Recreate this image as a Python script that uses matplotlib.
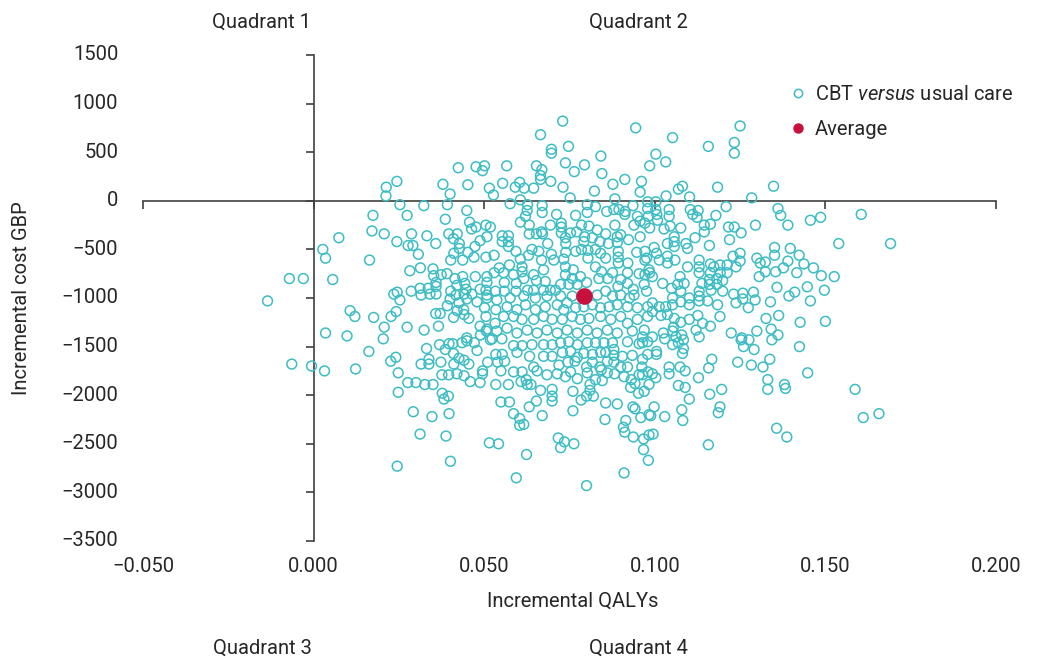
import matplotlib
matplotlib.use("Agg")
import matplotlib.pyplot as plt
from matplotlib.lines import Line2D
from matplotlib.transforms import blended_transform_factory

plt.rcParams['font.family'] = ['Roboto', 'DejaVu Sans']
plt.rcParams['mathtext.fontset'] = 'custom'
plt.rcParams['mathtext.rm'] = 'Roboto'
plt.rcParams['mathtext.it'] = 'Roboto:italic'

# ---------------- data ----------------
qaly = [
 -0.0135,-0.0071,-0.0030,0.0027,0.0035,0.0035,-0.0064,-0.0006,0.0032,
 0.0424,0.0476,0.0501,0.0495,0.0244,0.0213,0.0212,0.0379,0.0452,0.0400,0.0515,0.0253,0.0323,0.0392,0.0174,0.0274,0.0449,0.0386,0.0171,0.0207,0.0244,0.0287,0.0332,0.0358,0.0277,0.0291,0.0074,0.0164,0.0307,0.0396,0.0421,0.0457,0.0463,0.0476,0.0505,0.0410,0.0427,0.0427,0.0411,0.0402,0.0437,0.0452,0.0470,0.0473,0.0488,0.0505,0.0508,0.0282,0.0313,0.0350,0.0352,0.0374,0.0391,0.0414,0.0437,0.0474,0.0508,0.0056,0.0359,0.0359,0.0336,0.0312,0.0286,0.0235,0.0245,0.0253,0.0315,0.0341,0.0359,0.0402,0.0420,0.0443,0.0447,0.0464,0.0488,0.0505,0.0441,0.0417,0.0400,0.0392,0.0426,0.0449,0.0479,0.0501,0.0508,0.0107,0.0121,0.0176,0.0227,0.0242,0.0358,0.0371,0.0410,0.0421,0.0440,0.0441,0.0455,0.0505,0.0207,0.0274,0.0324,0.0366,0.0488,0.0098,0.0204,0.0449,0.0489,0.0508,
 0.0162,0.0123,0.0226,0.0241,0.0248,0.0248,0.0276,0.0300,0.0326,0.0350,0.0315,0.0331,0.0338,0.0338,0.0373,0.0369,0.0386,0.0397,0.0408,0.0410,0.0411,0.0426,0.0441,0.0455,0.0435,0.0449,0.0471,0.0479,0.0506,0.0518,0.0510,0.0376,0.0396,0.0420,0.0441,0.0459,0.0488,0.0495,0.0495,0.0377,0.0382,0.0395,0.0292,0.0347,0.0397,0.0312,0.0388,0.0515,0.0245,0.0401,
 0.0730,0.0944,0.0665,0.0747,0.0697,0.0697,0.0842,0.0566,0.0653,0.0669,0.0665,0.0665,0.0738,0.0764,0.0794,0.0845,0.0695,0.0554,0.0527,0.0591,0.0604,0.0617,0.0645,0.0731,0.0877,0.0912,0.0961,0.0957,0.0823,0.0752,0.0883,0.0985,0.0576,0.0606,0.0627,0.0670,0.0626,0.0621,0.0670,0.0712,0.0768,0.0802,0.0802,0.0826,0.0859,0.0880,0.0895,0.0913,0.0936,0.0912,0.0949,0.0979,0.0979,0.0981,0.0518,0.0606,0.0632,0.0668,0.0694,0.0726,0.0726,0.0726,0.0753,0.0785,0.0807,0.0831,0.0856,0.0883,0.0900,0.0939,0.0957,0.0971,0.0957,0.0985,0.0553,0.0571,0.0553,0.0571,0.0632,0.0653,0.0671,0.0686,0.0738,0.0771,0.0794,0.0792,0.0817,0.0839,0.0864,0.0890,0.0923,0.0890,0.0571,0.0593,0.0640,0.0660,0.0630,0.0606,0.0668,0.0697,0.0704,0.0739,0.0739,0.0768,0.0785,0.0804,0.0826,0.0841,0.0856,0.0893,0.0893,0.0893,0.0921,0.0947,0.0976,0.0529,0.0544,0.0574,0.0611,0.0611,0.0674,0.0733,0.0738,0.0761,0.0804,0.0826,0.0844,0.0876,0.0920,0.0954,0.0985,0.0508,0.0529,0.0557,0.0586,0.0559,0.0594,0.0616,0.0645,0.0653,0.0679,0.0738,0.0758,0.0782,0.0800,0.0773,0.0748,0.0724,0.0709,0.0694,0.0674,0.0645,0.0627,0.0593,0.0559,0.0533,0.0836,0.0862,0.0900,0.0920,0.0892,0.0937,0.0939,0.0969,0.0976,0.0831,0.0856,0.0876,0.0900,0.0926,0.0508,0.0537,0.0576,0.0616,0.0650,0.0684,0.0724,0.0758,0.0534,0.0567,0.0596,0.0621,0.0650,0.0679,0.0714,0.0743,0.0733,0.0768,0.0792,0.0817,0.0841,0.0866,0.0890,0.0920,0.0949,0.0979,0.0532,0.0557,0.0586,0.0611,0.0645,0.0674,0.0699,0.0729,0.0758,0.0782,0.0807,0.0841,0.0871,0.0900,0.0920,0.0949,0.0979,0.0537,0.0567,0.0596,0.0626,0.0655,0.0684,0.0714,0.0743,0.0773,0.0802,0.0831,0.0861,0.0890,0.0934,0.0969,
 0.0523,0.0552,0.0586,0.0611,0.0640,0.0674,0.0699,0.0724,0.0748,0.0773,0.0802,0.0826,0.0851,0.0876,0.0920,0.0954,0.0979,0.0534,0.0553,0.0596,0.0633,0.0674,0.0699,0.0729,0.0753,0.0773,0.0792,0.0817,0.0841,0.0856,0.0880,0.0880,0.0905,0.0934,0.0979,0.0539,0.0560,0.0719,0.0745,0.0766,0.0800,0.0817,0.0839,0.0861,0.0880,0.0900,0.0920,0.0962,0.0549,0.0586,0.0611,0.0645,0.0655,0.0684,0.0714,0.0738,0.0753,0.0773,0.0802,0.0826,0.0843,0.0846,0.0861,0.0882,0.0910,0.0931,0.0954,0.0980,0.0534,0.0571,0.0608,0.0623,0.0626,0.0637,0.0665,0.0699,0.0699,0.0699,0.0760,0.0810,0.0810,0.0800,0.0820,0.0784,0.0856,0.0890,0.0929,0.0942,0.0952,0.0969,0.0983,0.0549,0.0574,0.0632,0.0653,0.0586,0.0604,0.0604,0.0616,0.0670,0.0760,0.0854,0.0936,0.0942,0.0959,0.0983,0.0915,0.0908,0.0912,0.0937,0.0967,0.0983,0.0542,0.0624,0.0717,0.0735,0.0724,0.0763,0.0967,0.0981,0.0594,0.0800,0.0910,
 0.1250,0.1052,0.1157,0.1233,0.1233,0.1003,0.1032,0.1069,0.1081,0.1184,0.1348,0.1033,0.1102,0.1284,0.1003,0.1003,0.1006,0.1042,0.1042,0.1104,0.1127,0.1111,0.1124,0.1179,0.1209,0.1361,0.1369,0.1390,0.1456,0.1486,0.1008,0.1045,0.1027,0.1076,0.1145,0.1163,0.1145,0.1216,0.1233,0.1253,0.1295,0.1219,0.1057,0.1057,0.1057,0.1037,0.1118,0.1091,0.1096,0.1160,0.0998,0.1005,0.0971,0.0971,0.1013,0.1037,0.1037,0.1059,0.0983,0.0993,0.0971,0.1096,0.1130,0.1130,0.1130,0.1163,0.1173,0.1191,0.1212,0.1163,0.1192,0.1212,0.1229,0.1250,0.1250,0.1238,0.1351,0.1351,0.1397,0.1423,0.1437,0.1299,0.1309,0.1324,0.1324,0.1306,0.1354,0.1377,0.1390,0.1416,0.1074,0.1023,0.1049,0.1067,0.1086,0.1076,0.1138,0.1160,0.1160,0.1182,0.1182,0.1199,0.1199,0.1165,0.1130,0.1130,0.1155,0.1130,0.1101,0.1101,0.1076,0.1052,0.1052,0.1032,0.1013,0.0993,0.0993,0.1018,0.1037,0.1057,0.1076,0.1101,0.1126,0.1140,0.1163,0.1191,0.1184,0.1231,0.1258,0.1258,0.1289,0.1294,0.1274,0.1238,0.1339,0.1358,0.1393,0.1410,0.1363,0.1326,0.1426,0.1025,0.1055,0.1079,0.1121,0.1130,0.1224,0.1255,0.1299,0.1341,0.1361,0.0964,
 0.0993,0.1052,0.1029,0.1062,0.1084,0.1052,0.1069,0.0964,0.1005,0.1005,0.1084,0.1081,0.0964,0.0964,0.0993,0.1003,0.1042,0.1042,0.1074,0.1089,0.1128,0.1167,0.1158,0.1253,0.1276,0.1260,0.1291,0.1343,0.1243,0.1283,0.1317,0.1337,0.1424,0.1448,0.1331,0.1331,0.1380,0.1383,0.1069,0.1089,0.1101,0.1161,0.1196,0.1191,0.1186,0.0998,0.0988,0.1029,0.1079,0.1082,0.0995,0.1157,0.1357,0.1387,
 0.1605,0.1539,0.1691,0.1526,0.1587,0.1611,0.1657,
 0.1465,0.1488,0.1447,0.1497,0.1456,0.1500,
]
cost = [
 -1030,-800,-800,-500,-590,-1360,-1680,-1700,-1750,
 340,350,360,310,200,140,50,170,165,70,130,-40,-50,-40,-150,-150,-100,-190,-310,-340,-420,-340,-360,-440,-460,-460,-380,-610,-550,-340,-340,-220,-290,-270,-250,-390,-440,-490,-540,-610,-610,-530,-580,-470,-410,-580,-370,-720,-690,-700,-770,-760,-750,-800,-780,-780,-780,-810,-840,-880,-900,-900,-930,-960,-940,-1020,-970,-960,-960,-930,-870,-850,-910,-960,-910,-920,-960,-970,-1010,-1080,-1050,-1010,-1040,-1100,-970,-1130,-1190,-1200,-1190,-1140,-1160,-1160,-1200,-1130,-1120,-1170,-1210,-1190,-1300,-1300,-1330,-1290,-1290,-1390,-1420,-1410,-1380,-1320,
 -1550,-1730,-1650,-1610,-1770,-1970,-1870,-1870,-1890,-1890,-1680,-1520,-1630,-1680,-1660,-1480,-1530,-1470,-1470,-1570,-1680,-1620,-1640,-1680,-1460,-1440,-1460,-1540,-1340,-1430,-1660,-1790,-1790,-1780,-1800,-1860,-1870,-1750,-1780,-1980,-2040,-2010,-2170,-2220,-2190,-2400,-2420,-2490,-2730,-2680,
 820,750,680,560,530,490,460,360,360,320,260,220,390,300,370,280,200,180,60,140,190,130,130,140,170,220,200,90,100,30,20,360,-30,10,-40,-50,-100,-160,-120,-140,-150,-40,-120,-60,-110,-90,-90,-110,-50,-140,-160,-10,-80,-160,-270,-220,-250,-320,-250,-230,-270,-330,-330,-250,-260,-300,-340,-250,-350,-250,-210,-230,-370,-280,-360,-360,-420,-420,-340,-340,-340,-440,-380,-320,-370,-420,-380,-420,-440,-370,-400,-430,-470,-520,-500,-520,-560,-600,-610,-550,-610,-530,-440,-520,-500,-510,-500,-540,-590,-520,-580,-640,-640,-530,-590,-560,-690,-660,-680,-730,-710,-600,-680,-710,-590,-680,-730,-740,-740,-750,-740,-840,-740,-740,-760,-840,-850,-800,-760,-820,-830,-760,-800,-780,-840,-860,-860,-860,-920,-920,-920,-920,-920,-930,-930,-930,-800,-800,-810,-850,-880,-910,-970,-860,-930,-970,-930,-980,-970,-1000,-1000,-1020,-1000,-980,-1000,-980,-980,-980,-1120,-1090,-1120,-1070,-1120,-1090,-1070,-1050,-1120,-1100,-1090,-1070,-1100,-1090,-1070,-1090,-1100,-1090,-1260,-1190,-1190,-1220,-1220,-1190,-1220,-1220,-1190,-1220,-1210,-1190,-1220,-1190,-1260,-1220,-1190,-1340,-1310,-1360,-1330,-1360,-1330,-1360,-1330,-1360,-1330,-1360,-1330,-1360,-1340,-1330,
 -1420,-1420,-1490,-1490,-1480,-1480,-1480,-1460,-1450,-1480,-1460,-1460,-1460,-1460,-1450,-1470,-1450,-1580,-1580,-1560,-1600,-1600,-1600,-1560,-1550,-1610,-1570,-1580,-1560,-1560,-1530,-1590,-1600,-1590,-1580,-1660,-1650,-1690,-1660,-1650,-1710,-1660,-1710,-1650,-1660,-1710,-1710,-1710,-1750,-1760,-1760,-1710,-1750,-1790,-1780,-1810,-1760,-1830,-1770,-1840,-1740,-1850,-1770,-1780,-1810,-1840,-1790,-1760,-1890,-1890,-1860,-1840,-1890,-1890,-1950,-1940,-2010,-2060,-1960,-1890,-1950,-2010,-2010,-2050,-2080,-2090,-1920,-1880,-1980,-1960,-1890,-2070,-2070,-2120,-2060,-2190,-2240,-2310,-2300,-2210,-2160,-2250,-2120,-2140,-2230,-2200,-2260,-2330,-2380,-2430,-2450,-2410,-2500,-2610,-2440,-2480,-2540,-2500,-2560,-2670,-2850,-2930,-2800,
 770,650,560,600,490,480,400,120,150,140,150,50,40,30,-10,-90,-140,-90,-160,-90,-100,-140,-170,-150,-60,-80,-150,-250,-200,-170,-200,-260,-290,-280,-250,-240,-320,-270,-270,-330,-250,-400,-370,-420,-470,-440,-380,-440,-490,-460,-480,-540,-520,-610,-610,-570,-640,-610,-710,-780,-760,-680,-610,-680,-740,-650,-680,-660,-660,-740,-740,-740,-570,-540,-620,-680,-480,-560,-490,-560,-650,-590,-640,-630,-730,-780,-730,-690,-620,-740,-780,-850,-900,-860,-850,-930,-850,-810,-860,-800,-860,-820,-930,-920,-930,-980,-1030,-1030,-1000,-1070,-1040,-1000,-1070,-1090,-1090,-1050,-1140,-1180,-1170,-1210,-1250,-1220,-1180,-1260,-1290,-1190,-1070,-960,-950,-1010,-940,-1020,-1100,-1050,-1040,-890,-980,-940,-1180,-1210,-1250,-1360,-1300,-1380,-1330,-1400,-1360,-1410,-1340,-1320,-1380,-1400,
 -1400,-1340,-1420,-1400,-1430,-1480,-1460,-1460,-1550,-1580,-1520,-1570,-1630,-1790,-1780,-1820,-1710,-1780,-1710,-1750,-1820,-1630,-1720,-1430,-1430,-1500,-1530,-1430,-1660,-1690,-1710,-1630,-1500,-1770,-1840,-1940,-1890,-1930,-1900,-1920,-2040,-1990,-1940,-2120,-2180,-2120,-2210,-2220,-2150,-2260,-2400,-2510,-2340,-2430,
 -140,-440,-440,-780,-1940,-2230,-2190,
 -690,-770,-885,-920,-1030,-1240,
]
avg_qaly = [0.0792]
avg_cost = [-975]

x_ticks = [-0.05, 0.0, 0.05, 0.10, 0.15, 0.20]
x_tick_labels = ["\u22120.050", "0.000", "0.050", "0.100", "0.150", "0.200"]
y_ticks = [-3500, -3000, -2500, -2000, -1500, -1000, -500, 0, 500, 1000, 1500]
y_tick_labels = [("\u2212" + str(-v)) if v < 0 else str(v) for v in y_ticks]
quadrant_labels = ["Quadrant 1", "Quadrant 2", "Quadrant 3", "Quadrant 4"]

# ---------------- style ----------------
TEAL = "#3dbdc3"
RED = "#c8103e"
AXC = "#404040"
TXT = "#262626"
FS = 14.5

W, H = 1041, 658
fig = plt.figure(figsize=(W / 100, H / 100), dpi=100)
ax = fig.add_axes([143 / W, 1 - 541 / H, (996 - 143) / W, (541 - 55) / H])

ax.scatter(qaly, cost, s=50, facecolors="none", edgecolors=TEAL, linewidths=1.1, zorder=3)
ax.scatter(avg_qaly, avg_cost, s=120, color=RED, zorder=4)

ax.set_xlim(-0.05, 0.2)
ax.set_ylim(-3500, 1500)

for s in ["top", "right"]:
    ax.spines[s].set_visible(False)
ax.spines["left"].set_position(("data", 0))
ax.spines["bottom"].set_position(("data", 0))
for s in ["left", "bottom"]:
    ax.spines[s].set_color(AXC)
    ax.spines[s].set_linewidth(1.2)

ax.set_xticks(x_ticks)
ax.set_yticks(y_ticks)
ax.tick_params(axis="both", direction="out", length=5.5, width=1.2, color=AXC,
               labelleft=False, labelbottom=False)

ty = blended_transform_factory(ax.transAxes, ax.transData)
for v, lab in zip(y_ticks, y_tick_labels):
    ax.text(-0.029, v, lab, transform=ty, ha="right", va="center", fontsize=FS, color=TXT)
tx = blended_transform_factory(ax.transData, ax.transAxes)
for v, lab in zip(x_ticks, x_tick_labels):
    ax.text(v, -0.052, lab, transform=tx, ha="center", va="center", fontsize=FS, color=TXT)

fig.text(573 / W, 1 - 601 / H, "Incremental QALYs", ha="center", va="center", fontsize=FS, color=TXT)
fig.text(22 / W, 1 - 298 / H, "Incremental cost GBP", ha="center", va="center",
         rotation=90, fontsize=FS, color=TXT)

qpos = [(262, 22), (638, 22), (262, 648), (638, 648)]
for lab, (px, py) in zip(quadrant_labels, qpos):
    fig.text(px / W, 1 - py / H, lab, ha="center", va="center", fontsize=FS, color=TXT)

handles = [
    Line2D([], [], marker="o", linestyle="none", markersize=6, markerfacecolor="none",
           markeredgecolor=TEAL, markeredgewidth=1.1),
    Line2D([], [], marker="o", linestyle="none", markersize=6.5, markerfacecolor=RED,
           markeredgecolor=RED),
]
leg = fig.legend(handles, ["CBT $\\it{versus}$ usual care", "Average"], loc="upper left",
                 bbox_to_anchor=(790 / W, 1 - 85 / H), frameon=False, fontsize=FS,
                 handlelength=0.8, handletextpad=0.45, labelspacing=0.78, borderaxespad=0,
                 borderpad=0)
for t in leg.get_texts():
    t.set_color(TXT)

fig.savefig("out.png", dpi=100)
